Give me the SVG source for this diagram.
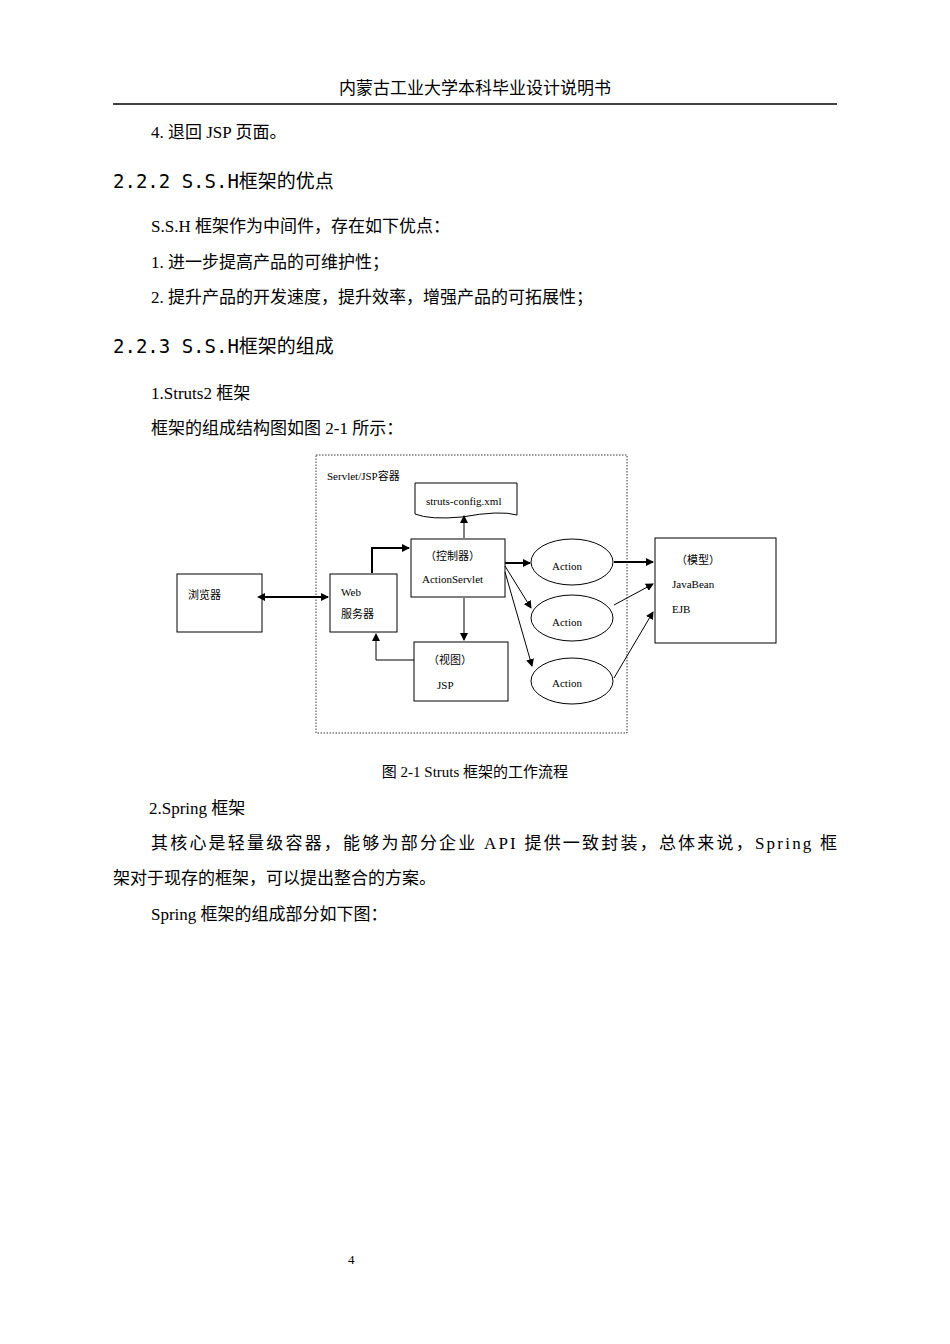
<svg xmlns="http://www.w3.org/2000/svg" width="950" height="1344" viewBox="0 0 950 1344">
<style>
.t{font-family:"Liberation Serif","Noto Sans CJK SC",serif;font-size:17px;fill:#000}
.h{font-family:"DejaVu Sans Mono","Noto Sans CJK SC",monospace;font-size:19px;fill:#000}
.s{font-family:"Liberation Serif","Noto Sans CJK SC",serif;font-size:11px;fill:#000}
.b{fill:#fff;stroke:#000;stroke-width:1}
.c{fill:none;stroke:#000;stroke-width:1}
.k{fill:none;stroke:#000;stroke-width:2}
</style>
<defs>
<marker id="a" markerWidth="8" markerHeight="8" refX="7" refY="4" orient="auto" markerUnits="userSpaceOnUse"><path d="M0,0L8,4L0,8z" fill="#000"/></marker>
<marker id="as" markerWidth="8" markerHeight="8" refX="1" refY="4" orient="auto-start-reverse" markerUnits="userSpaceOnUse"><path d="M0,0L8,4L0,8z" fill="#000"/></marker>
</defs>
<rect width="950" height="1344" fill="#fff"/>
<text class="t" x="475" y="94" text-anchor="middle">内蒙古工业大学本科毕业设计说明书</text>
<line x1="113" y1="104" x2="837" y2="104" stroke="#000" stroke-width="1.5"/>
<text class="t" x="151" y="138">4. 退回 JSP 页面。</text>
<text class="h" x="113" y="188">2.2.2 S.S.H框架的优点</text>
<text class="t" x="151" y="232">S.S.H 框架作为中间件，存在如下优点：</text>
<text class="t" x="151" y="268">1. 进一步提高产品的可维护性；</text>
<text class="t" x="151" y="303">2. 提升产品的开发速度，提升效率，增强产品的可拓展性；</text>
<text class="h" x="113" y="353">2.2.3 S.S.H框架的组成</text>
<text class="t" x="151" y="399">1.Struts2 框架</text>
<text class="t" x="151" y="434">框架的组成结构图如图 2-1 所示：</text>
<g id="container"><rect x="316" y="455" width="311" height="278" fill="none" stroke="#000" stroke-dasharray="1.5,1.5" stroke-width="0.8"/><text class="s" x="327" y="480">Servlet/JSP容器</text></g>
<g id="config"><path class="b" d="M415,483H517V515Q500,510 462,517Q430,520 415,514Z"/><text class="s" x="426" y="505">struts-config.xml</text></g>
<g id="browser"><rect class="b" x="177" y="574" width="85" height="58"/><text class="s" x="188" y="599">浏览器</text></g>
<g id="web"><rect class="b" x="330" y="574" width="67" height="58"/><text class="s" x="341" y="596">Web</text><text class="s" x="341" y="618">服务器</text></g>
<g id="controller"><rect class="b" x="411" y="539" width="94" height="58"/><text class="s" x="425" y="560">（控制器）</text><text class="s" x="422" y="583">ActionServlet</text></g>
<g id="view"><rect class="b" x="414" y="642" width="94" height="59"/><text class="s" x="428" y="664">（视图）</text><text class="s" x="437" y="689">JSP</text></g>
<g id="action1"><ellipse class="b" cx="572" cy="562" rx="41" ry="23"/><text class="s" x="552" y="570">Action</text></g>
<g id="action2"><ellipse class="b" cx="572" cy="618" rx="41" ry="23"/><text class="s" x="552" y="626">Action</text></g>
<g id="action3"><ellipse class="b" cx="572" cy="681" rx="41" ry="23"/><text class="s" x="552" y="687">Action</text></g>
<g id="model"><rect class="b" x="655" y="538" width="121" height="105"/><text class="s" x="676" y="564">（模型）</text><text class="s" x="672" y="588">JavaBean</text><text class="s" x="672" y="613">EJB</text></g>
<g id="connectors">
<line class="k" x1="264" y1="597" x2="328" y2="597" marker-start="url(#as)" marker-end="url(#a)"/>
<polyline class="k" points="372,573 372,548 409,548" marker-end="url(#a)"/>
<line class="c" x1="464" y1="538" x2="464" y2="516" marker-end="url(#a)"/>
<line class="c" x1="464" y1="598" x2="464" y2="640" marker-end="url(#a)"/>
<polyline class="c" points="414,660 376,660 376,634" marker-end="url(#a)"/>
<line class="k" x1="505" y1="563" x2="530" y2="563" marker-end="url(#a)"/>
<line class="c" x1="505" y1="566" x2="531" y2="608" marker-end="url(#a)"/>
<line class="c" x1="505" y1="572" x2="532" y2="666" marker-end="url(#a)"/>
<line class="k" x1="614" y1="562" x2="653" y2="562" marker-end="url(#a)"/>
<line class="c" x1="614" y1="605" x2="653" y2="584" marker-end="url(#a)"/>
<line class="c" x1="614" y1="678" x2="653" y2="612" marker-end="url(#a)"/>
</g>
<text class="t" x="475" y="777" text-anchor="middle" style="font-size:15px">图 2-1  Struts 框架的工作流程</text>
<text class="t" x="149" y="814">2.Spring 框架</text>
<text class="t" x="151" y="849" textLength="686" lengthAdjust="spacing">其核心是轻量级容器，能够为部分企业 API 提供一致封装，总体来说，Spring 框</text>
<text class="t" x="113" y="884">架对于现存的框架，可以提出整合的方案。</text>
<text class="t" x="151" y="920">Spring 框架的组成部分如下图：</text>
<text class="t" x="348" y="1264" style="font-size:13px">4</text>
</svg>
